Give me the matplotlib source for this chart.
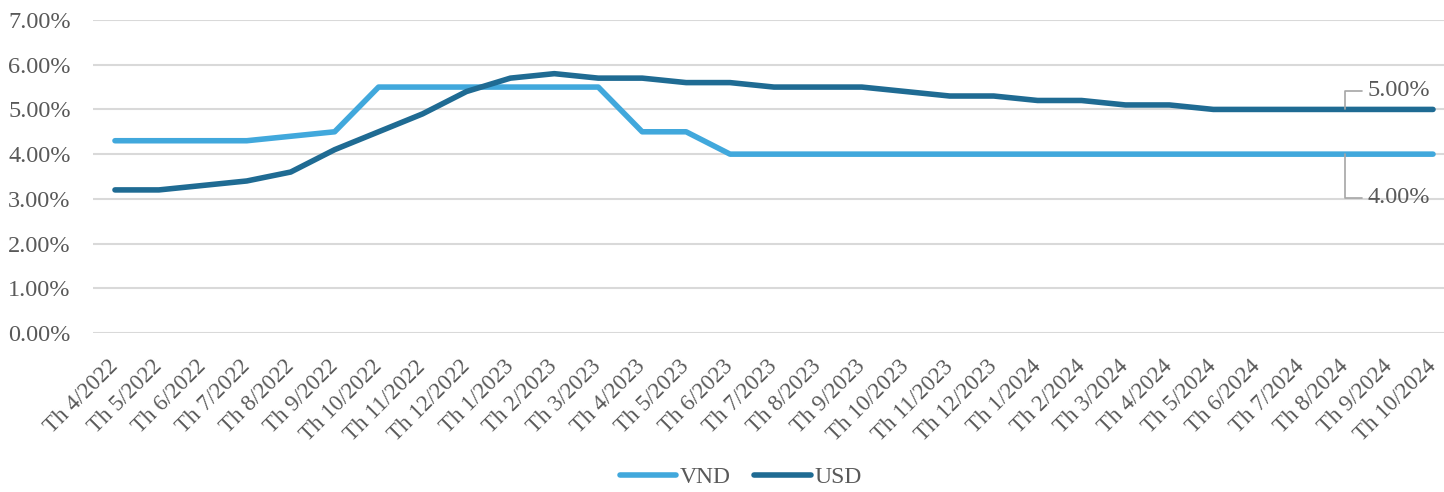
import matplotlib
matplotlib.use("Agg")
import matplotlib.pyplot as plt
from matplotlib.ticker import PercentFormatter

plt.rcParams['font.family'] = ['Liberation Serif', 'DejaVu Serif']

months = ["Th 4/2022", "Th 5/2022", "Th 6/2022", "Th 7/2022", "Th 8/2022", "Th 9/2022",
          "Th 10/2022", "Th 11/2022", "Th 12/2022", "Th 1/2023", "Th 2/2023", "Th 3/2023",
          "Th 4/2023", "Th 5/2023", "Th 6/2023", "Th 7/2023", "Th 8/2023", "Th 9/2023",
          "Th 10/2023", "Th 11/2023", "Th 12/2023", "Th 1/2024", "Th 2/2024", "Th 3/2024",
          "Th 4/2024", "Th 5/2024", "Th 6/2024", "Th 7/2024", "Th 8/2024", "Th 9/2024",
          "Th 10/2024"]
vnd = [4.3, 4.3, 4.3, 4.3, 4.4, 4.5, 5.5, 5.5, 5.5, 5.5, 5.5, 5.5, 4.5, 4.5, 4.0, 4.0,
       4.0, 4.0, 4.0, 4.0, 4.0, 4.0, 4.0, 4.0, 4.0, 4.0, 4.0, 4.0, 4.0, 4.0, 4.0]
usd = [3.2, 3.2, 3.3, 3.4, 3.6, 4.1, 4.5, 4.9, 5.4, 5.7, 5.8, 5.7, 5.7, 5.6, 5.6, 5.5,
       5.5, 5.5, 5.4, 5.3, 5.3, 5.2, 5.2, 5.1, 5.1, 5.0, 5.0, 5.0, 5.0, 5.0, 5.0]

c_vnd = "#41A8DC"
c_usd = "#1F6B93"
txt = "#595959"

fig = plt.figure(figsize=(14.44, 4.92), dpi=100)
ax = fig.add_axes([93 / 1444, (492 - 333) / 492, 1 - 93 / 1444, (333 - 20) / 492])

x = list(range(len(months)))
ax.plot(x, vnd, color=c_vnd, lw=4, solid_capstyle='round', label="VND", zorder=3)
ax.plot(x, usd, color=c_usd, lw=4, solid_capstyle='round', label="USD", zorder=3)

ax.set_xlim(-0.5, len(months) - 0.75)
ax.set_ylim(0, 7)
ax.set_yticks(range(0, 8))
ax.yaxis.set_major_formatter(PercentFormatter(decimals=2))
ax.grid(axis='y', color="#D9D9D9", lw=1.5)
ax.set_axisbelow(True)
for s in ax.spines.values():
    s.set_visible(False)
ax.tick_params(length=0)
ax.tick_params(axis='y', labelsize=17.5, labelcolor=txt, pad=16)
ax.set_xticks(x)
ax.set_xticklabels(months, rotation=45, ha='right', va='center', rotation_mode='anchor',
                   fontsize=16.5, color=txt)
ax.tick_params(axis='x', pad=22)

# end labels with leader lines
i = len(months) - 3
ax.annotate(f"{usd[i]:.2f}%", xy=(i, usd[i]), xytext=(i + 0.5, usd[i] + 0.42),
            fontsize=17.5, color=txt, va='center', ha='left',
            arrowprops=dict(arrowstyle='-', color="#A6A6A6", lw=1.2,
                            connectionstyle="angle,angleA=0,angleB=90,rad=0",
                            shrinkA=2, shrinkB=0))
ax.annotate(f"{vnd[i]:.2f}%", xy=(i, vnd[i]), xytext=(i + 0.5, vnd[i] - 0.98),
            fontsize=17.5, color=txt, va='center', ha='left',
            arrowprops=dict(arrowstyle='-', color="#A6A6A6", lw=1.2,
                            connectionstyle="angle,angleA=0,angleB=90,rad=0",
                            shrinkA=2, shrinkB=0))

leg = fig.legend(loc='lower center', bbox_to_anchor=(0.513, -0.035), ncol=2, frameon=False,
                 fontsize=17, handlelength=2.4, columnspacing=1.0, handletextpad=0.15)
for t in leg.get_texts():
    t.set_color(txt)

fig.savefig("out.png", dpi=100)
